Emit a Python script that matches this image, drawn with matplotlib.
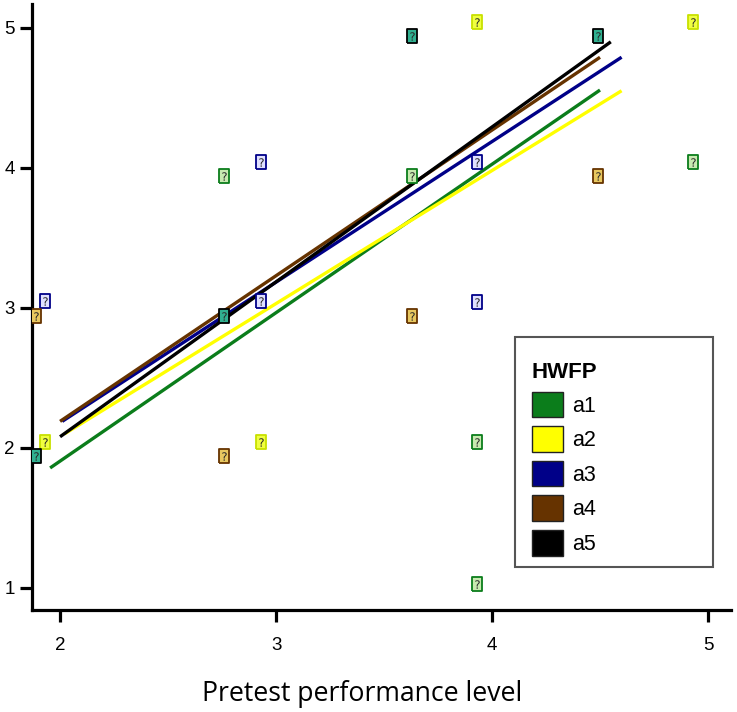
import matplotlib
matplotlib.use("Agg")
import numpy as np
import matplotlib.pyplot as plt
from matplotlib.patches import Patch, Rectangle

# groups and colours
groups = ["a1", "a2", "a3", "a4", "a5"]
colors = ["#0b7d1b", "#ffff00", "#000088", "#663300", "#000000"]

# fitted lines per group (intercept, slope, x range)
intercepts = [-0.214, 0.181, 0.172, 0.110, -0.132]
slopes = [1.060, 0.950, 1.004, 1.040, 1.106]
x_from = [1.954, 2.02, 2.01, 2.00, 2.00]
x_to = [4.50, 4.60, 4.60, 4.50, 4.55]

# observed points (pretest, posttest) per group
pts_x = {
    "a1": [2.76, 3.63, 3.93, 3.93, 4.93],
    "a2": [1.93, 2.93, 3.93, 4.93],
    "a3": [1.93, 2.93, 2.93, 3.93, 3.93],
    "a4": [1.89, 2.76, 3.63, 4.49],
    "a5": [1.89, 2.76, 3.63, 4.49],
}
pts_y = {
    "a1": [3.94, 3.94, 2.04, 1.03, 4.04],
    "a2": [2.04, 2.04, 5.04, 5.04],
    "a3": [3.05, 4.04, 3.05, 4.04, 3.04],
    "a4": [2.94, 1.94, 2.94, 3.94],
    "a5": [1.94, 2.94, 4.94, 4.94],
}
fills = {"a1": "#c8eab0", "a2": "#f0ff40", "a3": "#e0e0ff", "a4": "#e8c860", "a5": "#30b090"}

xticks = [2, 3, 4, 5]
yticks = [1, 2, 3, 4, 5]

plt.rcParams['font.family'] = ['Liberation Sans', 'DejaVu Sans']

fig = plt.figure(figsize=(7.37, 7.12), dpi=100)
ax = fig.add_axes([0.0434, 0.1433, 0.9486, 0.851])

box = [(-0.35, -0.5), (0.35, -0.5), (0.35, 0.5), (-0.35, 0.5), (-0.35, -0.5)]
for g, c in zip(groups, colors):
    ax.scatter(pts_x[g], pts_y[g], s=100, marker=box, facecolor=fills[g],
               edgecolor=c if g != "a2" else "#c8e000", linewidth=1.3, zorder=3)
    ax.scatter(pts_x[g], pts_y[g], s=38, marker="$?$", color="#2a2a2a",
               linewidth=0, zorder=4)

for g, c, b0, b1, xa, xb in zip(groups, colors, intercepts, slopes, x_from, x_to):
    xs = np.array([xa, xb])
    ax.plot(xs, b0 + b1 * xs, color=c, linewidth=2.4, zorder=2, solid_capstyle="butt")

ax.set_xlim(1.87, 5.107)
ax.set_ylim(0.843, 5.17)
ax.set_xticks(xticks)
ax.set_yticks(yticks)
for s in ["top", "right"]:
    ax.spines[s].set_visible(False)
for s in ["left", "bottom"]:
    ax.spines[s].set_linewidth(2.3)
ax.tick_params(width=2.3, length=8.5, labelsize=13.5, pad=4)
ax.tick_params(axis="x", pad=11)

ax.set_xlabel("Pretest performance level", family=["Open Sans", "DejaVu Sans"],
              fontsize=19.2)
ax.xaxis.set_label_coords(0.472, -0.115)

# legend frame
ax.add_patch(Rectangle((0.691, 0.071), 0.283, 0.3795, transform=ax.transAxes,
                       facecolor="white", edgecolor="#555555", linewidth=1.5,
                       zorder=5, clip_on=False))
handles = [Patch(facecolor=c, edgecolor="#222222", linewidth=1.0) for c in colors]
leg = ax.legend(handles, groups, title="HWFP", loc="upper left",
                bbox_to_anchor=(0.7145, 0.41), fontsize=15.5,
                title_fontproperties={"weight": "bold", "size": 16},
                alignment="left", frameon=False,
                handlelength=1.45, handleheight=1.45, handletextpad=0.45,
                labelspacing=0.42, borderpad=0, borderaxespad=0)
leg.set_zorder(6)

fig.savefig("out.png", dpi=100)
